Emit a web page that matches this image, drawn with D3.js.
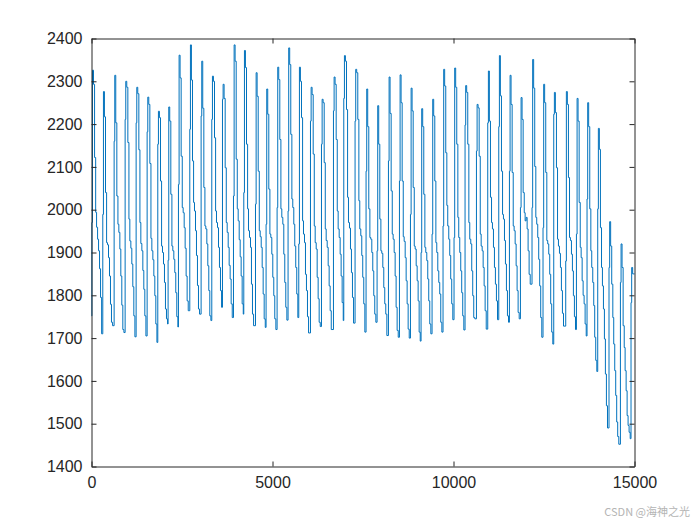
<!DOCTYPE html>
<html>
<head>
<meta charset="utf-8">
<script src="https://cdn.jsdelivr.net/npm/d3@7"></script>
<style>
  body { margin: 0; background: #fff; }
  svg { display: block; }
</style>
</head>
<body>
<div id="chart"></div>
<script>
const width = 700, height = 525;

// axis ticks
const xTicks = [0, 5000, 10000, 15000];
const yTicks = [1400, 1500, 1600, 1700, 1800, 1900, 2000, 2100, 2200, 2300, 2400];

// value at sample 0, before the first rise
const startValue = 1752;
// sample index where each cycle rises
const riseAt = [10, 312, 625, 929, 1233, 1537, 1831, 2116, 2402, 2715,
  3028, 3323, 3618, 3922, 4207, 4530, 4823, 5127, 5430, 5726,
  6049, 6353, 6684, 6969, 7281, 7585, 7889, 8203, 8507, 8811,
  9104, 9408, 9711, 10015, 10319, 10634, 10946, 11250, 11545, 11849,
  12169, 12473, 12769, 13100, 13396, 13689, 13984, 14296, 14611, 14904];
// sample offset of each step inside a cycle
const stepOffset = [0, 18, 45, 75, 105, 130, 158, 185, 212, 240, 270];
// step levels of each cycle: rise, peak, then the decay down to the trough
const levels = [
  [1970, 2326, 2293, 2122, 1994, 1959, 1931, 1904, 1862, 1795, 1710],
  [1989, 2276, 2217, 2040, 1923, 1918, 1888, 1845, 1779, 1737, 1729],
  [2160, 2314, 2203, 2032, 1966, 1947, 1908, 1845, 1777, 1720, 1713],
  [2211, 2300, 2286, 2157, 1978, 1927, 1910, 1873, 1820, 1752, 1703],
  [2203, 2286, 2271, 2140, 1970, 1921, 1904, 1858, 1814, 1752, 1705],
  [2182, 2263, 2246, 2108, 1933, 1904, 1883, 1845, 1799, 1733, 1690],
  [2153, 2230, 2215, 2067, 1915, 1900, 1873, 1830, 1768, 1745, 1733],
  [1882, 2240, 2207, 2036, 1915, 1904, 1884, 1853, 1806, 1750, 1726],
  [2059, 2361, 2308, 2125, 2005, 1993, 1958, 1910, 1845, 1787, 1764],
  [2188, 2385, 2303, 2114, 2017, 1997, 1951, 1893, 1823, 1768, 1756],
  [2219, 2347, 2237, 2052, 1962, 1955, 1920, 1869, 1811, 1752, 1741],
  [2211, 2312, 2300, 2168, 1997, 1970, 1958, 1912, 1865, 1811, 1772],
  [2258, 2293, 2260, 2098, 1970, 1947, 1912, 1870, 1838, 1780, 1748],
  [2032, 2385, 2347, 2118, 2002, 1974, 1930, 1890, 1845, 1780, 1756],
  [2040, 2372, 2332, 2153, 2002, 1951, 1935, 1912, 1826, 1756, 1729],
  [2013, 2320, 2265, 2090, 1951, 1937, 1912, 1865, 1803, 1745, 1725],
  [1966, 2282, 2223, 2048, 1943, 1935, 1896, 1842, 1799, 1745, 1720],
  [2005, 2333, 2304, 2164, 2002, 1982, 1966, 1896, 1830, 1772, 1742],
  [1997, 2378, 2339, 2176, 2025, 2005, 1966, 1915, 1865, 1803, 1748],
  [1920, 2333, 2300, 2215, 1974, 1943, 1923, 1849, 1811, 1750, 1712],
  [2207, 2286, 2269, 2130, 1962, 1923, 1908, 1842, 1792, 1737, 1727],
  [2153, 2258, 2250, 2110, 1955, 1928, 1912, 1869, 1822, 1764, 1720],
  [2231, 2310, 2293, 2164, 1997, 1955, 1935, 1896, 1845, 1783, 1741],
  [2260, 2360, 2347, 2234, 2029, 1970, 1957, 1908, 1853, 1795, 1735],
  [2207, 2328, 2320, 2211, 2021, 1955, 1939, 1893, 1842, 1780, 1714],
  [2090, 2282, 2194, 2002, 1935, 1931, 1900, 1857, 1799, 1756, 1737],
  [1904, 2243, 2153, 1978, 1904, 1898, 1865, 1818, 1780, 1756, 1706],
  [2114, 2310, 2225, 2044, 1943, 1931, 1900, 1845, 1772, 1718, 1702],
  [2067, 2315, 2250, 2067, 1937, 1926, 1888, 1834, 1780, 1721, 1700],
  [1989, 2284, 2231, 2052, 1915, 1908, 1869, 1834, 1787, 1714, 1693],
  [1900, 2236, 2194, 2036, 1912, 1900, 1881, 1838, 1787, 1733, 1710],
  [1943, 2258, 2219, 2067, 1923, 1900, 1857, 1830, 1803, 1737, 1714],
  [1962, 2328, 2289, 2133, 2010, 1962, 1931, 1893, 1838, 1780, 1743],
  [1935, 2331, 2286, 2153, 1982, 1935, 1900, 1857, 1806, 1752, 1719],
  [2198, 2290, 2274, 2153, 1970, 1931, 1920, 1857, 1799, 1748, 1745],
  [2137, 2246, 2238, 2125, 1943, 1915, 1904, 1865, 1822, 1764, 1721],
  [2203, 2324, 2207, 2029, 1970, 1955, 1912, 1865, 1826, 1787, 1743],
  [2194, 2360, 2266, 2090, 1989, 1978, 1928, 1873, 1811, 1752, 1737],
  [2090, 2314, 2246, 2087, 1962, 1951, 1920, 1869, 1811, 1760, 1745],
  [2005, 2262, 2211, 2040, 1993, 1974, 1982, 1955, 1904, 1849, 1826],
  [2005, 2351, 2284, 2101, 1982, 1966, 1935, 1884, 1822, 1748, 1702],
  [1958, 2293, 2250, 2087, 1928, 1920, 1896, 1849, 1780, 1714, 1686],
  [2223, 2274, 2227, 2098, 1931, 1915, 1898, 1865, 1811, 1758, 1728],
  [1880, 2276, 2246, 2075, 1935, 1928, 1896, 1857, 1799, 1750, 1720],
  [1943, 2260, 2207, 2017, 1912, 1888, 1834, 1800, 1780, 1733, 1705],
  [2025, 2250, 2194, 2002, 1904, 1865, 1830, 1776, 1702, 1648, 1622],
  [2002, 2190, 2141, 1958, 1865, 1822, 1768, 1698, 1616, 1542, 1490],
  [1865, 1972, 1915, 1826, 1748, 1686, 1624, 1566, 1504, 1470, 1452],
  [1830, 1920, 1865, 1729, 1678, 1624, 1577, 1519, 1496, 1480, 1465],
  [1783, 1865, 1850]
];

const xMax = 15000;

const svg = d3.select("#chart")
  .append("svg")
  .attr("width", width)
  .attr("height", height);

const x = d3.scaleLinear().domain([0, xMax]).range([91.5, 634.5]);
const y = d3.scaleLinear().domain([1400, 2400]).range([466.5, 38.5]);

// build the step points
var pts = [[0, startValue]];
levels.forEach(function (lv, i) {
  lv.forEach(function (v, j) {
    var s = riseAt[i] + stepOffset[j];
    if (s < xMax) pts.push([s, v]);
  });
});
pts.push([xMax, pts[pts.length - 1][1]]);

const line = d3.line()
  .x(d => x(d[0]))
  .y(d => y(d[1]))
  .curve(d3.curveStepAfter);

svg.append("path")
  .datum(pts)
  .attr("fill", "none")
  .attr("stroke", "#0072BD")
  .attr("stroke-width", 1)
  .attr("d", line);

// axes, MATLAB style: ticks inside, box all round
const tickLen = 5;
const axisColor = "#262626";
const font = "'Liberation Sans', Arial, sans-serif";
const fmt = d3.format("d");

const gx = svg.append("g")
  .attr("transform", "translate(0," + 466.5 + ")")
  .call(d3.axisBottom(x).tickValues(xTicks).tickFormat(fmt).tickSizeInner(-tickLen).tickSizeOuter(0).tickPadding(10));
const gy = svg.append("g")
  .attr("transform", "translate(" + 91.5 + ",0)")
  .call(d3.axisLeft(y).tickValues(yTicks).tickFormat(fmt).tickSizeInner(-tickLen).tickSizeOuter(0).tickPadding(9));
const gxTop = svg.append("g")
  .attr("transform", "translate(0," + 38.5 + ")")
  .call(d3.axisTop(x).tickValues(xTicks).tickSizeInner(-tickLen).tickSizeOuter(0).tickFormat(""));
const gyRight = svg.append("g")
  .attr("transform", "translate(" + 634.5 + ",0)")
  .call(d3.axisRight(y).tickValues(yTicks).tickSizeInner(-tickLen).tickSizeOuter(0).tickFormat(""));

[gx, gy, gxTop, gyRight].forEach(function (g) {
  g.select(".domain").attr("stroke", axisColor);
  g.selectAll(".tick line").attr("stroke", axisColor);
  g.selectAll(".tick text")
    .attr("fill", axisColor)
    .style("font-family", font)
    .style("font-size", "16px");
});

// watermark
svg.append("text")
  .attr("x", 690)
  .attr("y", 516)
  .attr("text-anchor", "end")
  .attr("fill", "#b4b4b4")
  .style("font-family", "'Noto Sans CJK SC', sans-serif")
  .style("font-size", "11px")
  .text("CSDN @海神之光");
</script>
</body>
</html>
